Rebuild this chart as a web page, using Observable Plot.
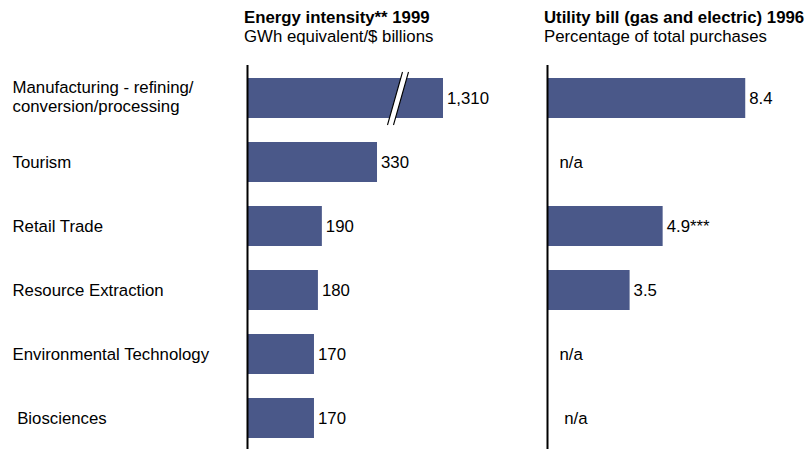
<!DOCTYPE html>
<html><head><meta charset="utf-8">
<script src="https://cdn.jsdelivr.net/npm/d3@7"></script>
<script src="https://cdn.jsdelivr.net/npm/@observablehq/plot@0.6"></script>
<style>
body{margin:0;background:#fff;}
#wrap{position:relative;width:805px;height:449px;font-family:"Liberation Sans",Arial,sans-serif;color:#000;overflow:hidden;background:#fff}
.t{position:absolute;font-size:16.8px;line-height:19px;white-space:nowrap}
.p{position:absolute;top:0}
</style></head><body>
<div id="wrap">
<div class="t" style="left:244px;top:7.5px"><b>Energy intensity** 1999</b><br>GWh equivalent/$ billions</div>
<div class="t" style="left:544px;top:7.5px"><b>Utility bill (gas and electric) 1996</b><br>Percentage of total purchases</div>
<div class="p" id="left" style="left:0"></div>
<div class="p" id="right" style="left:505px"></div>
</div>
<script>
const categories = ["Manufacturing - refining/\nconversion/processing", "Tourism", "Retail Trade", "Resource Extraction", "Environmental Technology", " Biosciences"];
const energyIntensity = [1310, 330, 190, 180, 170, 170];
const energyLabels = ["1,310", "330", "190", "180", "170", "170"];
const utilityShare = [8.4, null, 4.9, 3.5, null, null];
const utilityLabels = ["8.4", "n/a", "4.9***", "3.5", "n/a", " n/a"];
const breakValue = 382; // where the axis-break mark sits on the truncated bar

const FONT = '"Liberation Sans", Arial, sans-serif';
const BAR = "#4a5889";

const energyRows = categories.map((c, i) => ({category: c, value: energyIntensity[i], label: energyLabels[i]}));
const utilityRows = categories.map((c, i) => ({category: c, value: utilityShare[i], label: utilityLabels[i]}));
const breakRows = [{category: categories[0], at: breakValue}];

const breakFill = {draw(ctx) {
  ctx.moveTo(-10.5, 26.5); ctx.lineTo(4.5, -26.5); ctx.lineTo(10.5, -26.5); ctx.lineTo(-4.5, 26.5); ctx.closePath();
}};
const breakLines = {draw(ctx) {
  ctx.moveTo(-10.5, 26.5); ctx.lineTo(4.5, -26.5);
  ctx.moveTo(-4.5, 26.5); ctx.lineTo(10.5, -26.5);
}};

const yScale = {domain: categories, range: [64.9, 450.1], paddingInner: 0.377, paddingOuter: 0.1885, axis: null};
const style = {fontFamily: FONT, fontSize: "16.8px", background: "transparent", overflow: "visible", color: "#000"};

const left = Plot.plot({
  width: 500, height: 449,
  marginLeft: 247, marginRight: 57, marginTop: 65, marginBottom: 0,
  x: {domain: [0, 497.5], clamp: true, axis: null},
  y: yScale,
  style,
  marks: [
    Plot.barX(energyRows, {x1: 0, x2: "value", y: "category", fill: BAR}),
    Plot.dot(breakRows, {x: "at", y: "category", symbol: breakFill, fill: "white", stroke: "none"}),
    Plot.dot(breakRows, {x: "at", y: "category", symbol: breakLines, fill: "none", stroke: "#000", strokeWidth: 1.1}),
    Plot.text(energyRows, {x: "value", y: "category", text: "label", textAnchor: "start", dx: 3.5, fill: "#000"}),
    Plot.text(energyRows.slice(0, 1), {y: "category", text: "category", frameAnchor: "left", textAnchor: "start", dx: -235, dy: -2, lineHeight: 1.11, fill: "#000"}),
    Plot.text(energyRows.slice(1), {y: "category", text: "category", frameAnchor: "left", textAnchor: "start", dx: -235, fill: "#000"}),
    Plot.ruleX([0], {stroke: "#000", strokeWidth: 2})
  ]
});
document.getElementById("left").append(left);

const right = Plot.plot({
  width: 300, height: 449,
  marginLeft: 42, marginRight: 22, marginTop: 65, marginBottom: 0,
  x: {domain: [0, 10], axis: null},
  y: yScale,
  style,
  marks: [
    Plot.barX(utilityRows.filter(d => d.value != null), {x1: 0, x2: "value", y: "category", fill: BAR}),
    Plot.text(utilityRows.filter(d => d.value != null), {x: "value", y: "category", text: "label", textAnchor: "start", dx: 3.5, fill: "#000"}),
    Plot.text(utilityRows.filter(d => d.value == null), {x: 0, y: "category", text: "label", textAnchor: "start", dx: 12, fill: "#000"}),
    Plot.ruleX([0], {stroke: "#000", strokeWidth: 2})
  ]
});
document.getElementById("right").append(right);
</script>
</body></html>
